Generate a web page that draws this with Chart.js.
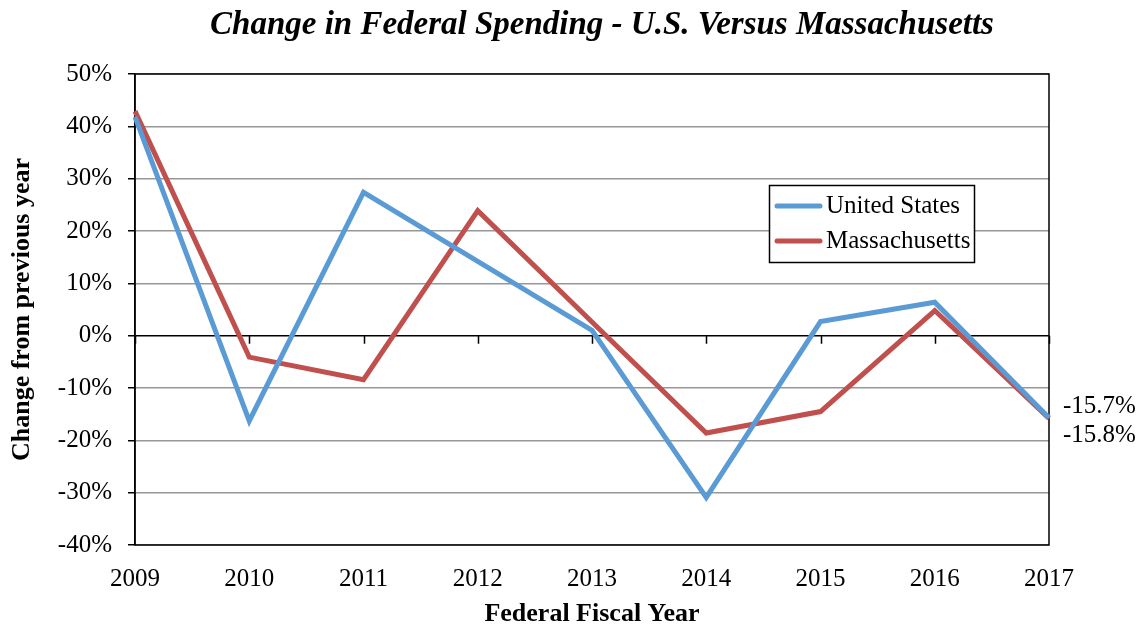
<!DOCTYPE html>
<html>
<head>
<meta charset="utf-8">
<script src="https://cdn.jsdelivr.net/npm/chart.js@4.4.1/dist/chart.umd.min.js"></script>
<style>
    html, body { margin: 0; padding: 0; background: #fff; }
    #wrap { width: 1138px; height: 625px; position: relative; }
</style>
</head>
<body>
<div id="wrap"><canvas id="spendChart" width="1138" height="625"></canvas></div>
<script>
const years = ["2009", "2010", "2011", "2012", "2013", "2014", "2015", "2016", "2017"];
const usChange = [41.8, -16.3, 27.4, 14.2, 1.0, -30.9, 2.7, 6.4, -15.7];
const maChange = [42.9, -4.1, -8.4, 23.9, 2.6, -18.6, -14.5, 4.8, -15.8];
const yTicks = [50, 40, 30, 20, 10, 0, -10, -20, -30, -40];

const serif = "'Liberation Serif', 'Times New Roman', serif";

// title, border, zero-line ticks, legend box and end labels
const decorations = {
    id: "decorations",
    beforeDatasetsDraw(chart) {
        const ctx = chart.ctx;
        const a = chart.chartArea;
        const x = chart.scales.x;
        const y = chart.scales.y;
        const y0 = y.getPixelForValue(0);
        ctx.save();
        ctx.strokeStyle = "#000";
        ctx.lineWidth = 1.5;
        ctx.strokeRect(a.left, a.top, a.right - a.left, a.bottom - a.top);
        ctx.beginPath();
        for (let i = 0; i < years.length; i++) {
            const px = Math.round(x.getPixelForValue(i)) + 0.5;
            ctx.moveTo(px, y0);
            ctx.lineTo(px, y0 + 8);
        }
        ctx.stroke();
        ctx.restore();
    },
    afterDraw(chart) {
        const ctx = chart.ctx;
        const x = chart.scales.x;
        const y = chart.scales.y;
        ctx.save();

        ctx.fillStyle = "#000";
        ctx.font = "italic bold 33px " + serif;
        ctx.textAlign = "center";
        ctx.textBaseline = "middle";
        ctx.fillText("Change in Federal Spending - U.S. Versus Massachusetts", 602, 25);

        // legend
        ctx.fillStyle = "#fff";
        ctx.fillRect(769, 185, 206, 78);
        ctx.strokeStyle = "#000";
        ctx.lineWidth = 1.5;
        ctx.strokeRect(769.5, 185.5, 205, 77);
        ctx.font = "25px " + serif;
        ctx.textAlign = "left";
        chart.data.datasets.forEach((ds, i) => {
            const ly = 206 + i * 35;
            ctx.strokeStyle = ds.borderColor;
            ctx.lineWidth = 5;
            ctx.lineCap = "round";
            ctx.beginPath();
            ctx.moveTo(777, ly);
            ctx.lineTo(820, ly);
            ctx.stroke();
            ctx.fillStyle = "#000";
            ctx.fillText(ds.label, 826, ly);
        });

        // values at the last year
        const last = years.length - 1;
        const lx = x.getPixelForValue(last) + 14;
        const offsets = [-11, 17];
        chart.data.datasets.forEach((ds, i) => {
            const v = ds.data[last];
            ctx.fillStyle = "#000";
            ctx.fillText(v.toFixed(1) + "%", lx, y.getPixelForValue(v) + offsets[i]);
        });
        ctx.restore();
    }
};

const fundChart = new Chart(document.getElementById("spendChart").getContext("2d"), {
    type: "line",
    data: {
        labels: years,
        datasets: [{
            label: "United States",
            data: usChange,
            borderColor: "#5B9BD5",
            borderWidth: 5,
            pointRadius: 0,
            tension: 0
        }, {
            label: "Massachusetts",
            data: maChange,
            borderColor: "#C0504D",
            borderWidth: 5,
            pointRadius: 0,
            tension: 0
        }]
    },
    options: {
        responsive: false,
        animation: false,
        layout: { padding: { top: 74, right: 89, left: 0, bottom: 0 } },
        plugins: {
            legend: { display: false },
            title: { display: false },
            tooltip: { enabled: false }
        },
        scales: {
            x: {
                offset: false,
                grid: { display: false, drawTicks: false },
                border: { display: false },
                ticks: {
                    color: "#000",
                    font: { family: serif, size: 25 },
                    padding: 19,
                    maxRotation: 0,
                    autoSkip: false
                },
                title: {
                    display: true,
                    text: "Federal Fiscal Year",
                    color: "#000",
                    font: { family: serif, size: 26, weight: "bold", lineHeight: 1 },
                    padding: { top: 0, bottom: -2 }
                },
                afterFit: function (scale) { scale.height = 80; }
            },
            y: {
                min: -40,
                max: 50,
                afterBuildTicks: function (scale) {
                    scale.ticks = yTicks.map(v => ({ value: v }));
                },
                grid: {
                    color: ctx => ctx.tick && ctx.tick.value === 0 ? "#000" : "#979797",
                    lineWidth: 1.5,
                    tickLength: 7,
                    tickColor: "#000"
                },
                border: { color: "#000", width: 1.5 },
                ticks: {
                    color: "#000",
                    font: { family: serif, size: 25 },
                    padding: 16,
                    callback: v => v + "%"
                },
                title: {
                    display: true,
                    text: "Change from previous year",
                    color: "#000",
                    font: { family: serif, size: 26, weight: "bold", lineHeight: 1 },
                    padding: { top: 9, bottom: 0 }
                },
                afterFit: function (scale) { scale.width = 135; }
            }
        }
    },
    plugins: [decorations]
});
</script>
</body>
</html>
